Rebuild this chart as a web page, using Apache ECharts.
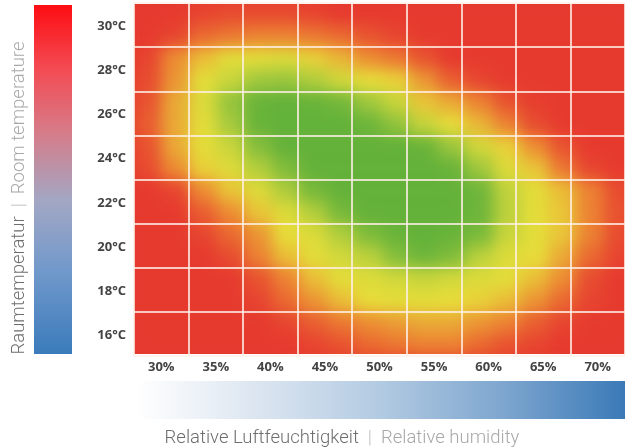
<!DOCTYPE html>
<html><head><meta charset="utf-8">
<script src="https://cdn.jsdelivr.net/npm/echarts@6/dist/echarts.min.js"></script>
<style>
html,body{margin:0;padding:0;background:#fff;}
#wrap{position:relative;width:625px;height:447px;overflow:hidden;}
#heatClip{position:absolute;left:134px;top:4px;width:491px;height:350px;overflow:hidden;background:#e63a2f;}
#heat{position:absolute;left:0;top:-1px;width:498px;height:353px;filter:blur(8px);}
#main{position:absolute;left:0;top:0;width:625px;height:447px;}
</style></head><body>
<div id="wrap"><div id="heatClip"><div id="heat"></div></div><div id="main"></div></div>
<script>
// Axis tick labels
const humidityLabels = ['30%','35%','40%','45%','50%','55%','60%','65%','70%'];
const temperatureLabels = ['16°C','18°C','20°C','22°C','24°C','26°C','28°C','30°C'];

// Half-cell sample positions
const fineHumidity = [28.75,31.25,33.75,36.25,38.75,41.25,43.75,46.25,48.75,51.25,53.75,56.25,58.75,61.25,63.75,66.25,68.75,71.25];
const fineTemperature = [15.5,16.5,17.5,18.5,19.5,20.5,21.5,22.5,23.5,24.5,25.5,26.5,27.5,28.5,29.5,30.5];

// Comfort level per half-cell (0 = red, ~28 orange, ~50 yellow, ~70 yellow-green, ~90 green)
// rows from top (30.5°C) to bottom (15.5°C)
const comfortRows = [
  [5,5,8,10,10,10,8,5,5,5,5,5,5,5,5,5,5,5],
  [5,8,18,22,25,25,22,18,12,8,5,5,5,5,5,5,5,5],
  [8,28,40,50,50,52,45,38,28,22,12,5,5,5,5,5,5,5],
  [10,30,50,58,70,72,65,55,48,45,30,15,8,5,5,5,5,5],
  [12,35,52,74,90,92,90,86,70,58,42,35,25,12,6,5,5,5],
  [15,35,50,68,90,92,92,92,88,75,58,48,38,25,10,5,5,5],
  [12,35,50,58,80,92,92,92,92,92,90,72,55,45,28,12,5,5],
  [10,28,45,52,65,82,92,92,92,92,92,90,70,52,42,22,8,5],
  [5,8,28,42,52,66,85,92,92,92,92,92,88,60,50,40,25,10],
  [5,5,15,28,42,52,65,85,92,92,92,92,88,62,50,42,25,12],
  [5,5,8,18,30,48,52,65,82,90,92,90,84,58,50,42,25,10],
  [5,5,5,10,25,40,50,55,62,80,88,82,62,52,48,35,18,8],
  [5,5,5,5,12,25,40,50,52,55,58,55,52,50,40,28,10,5],
  [5,5,5,5,8,18,30,40,48,50,50,48,45,40,30,18,8,5],
  [5,5,5,5,5,8,15,22,28,32,35,35,30,25,15,8,5,5],
  [5,5,5,5,5,5,8,12,18,22,25,25,18,12,8,5,5,5]
];

const heatData = [];
comfortRows.forEach((row, r) => {
  row.forEach((v, c) => heatData.push([c, comfortRows.length - 1 - r, v]));
});

const heatChart = echarts.init(document.getElementById('heat'), null, {renderer: 'canvas'});
heatChart.setOption({
  animation: false,
  grid: {left: 0, right: 0, top: 0, bottom: 0},
  xAxis: {type: 'category', data: fineHumidity.map(String), show: false},
  yAxis: {type: 'category', data: fineTemperature.map(String), show: false},
  visualMap: {show: false, min: 5, max: 92, dimension: 2,
    inRange: {color: ['#e63a2f', '#ec8833', '#e8df3a', '#9fc83d', '#63b23a']}},
  series: [{type: 'heatmap', data: heatData, progressive: 0, itemStyle: {borderWidth: 0}}]
});

const txtFont = 'Roboto, "Open Sans", sans-serif';
const mainChart = echarts.init(document.getElementById('main'), null, {renderer: 'svg'});
mainChart.setOption({
  animation: false,
  grid: {left: 134, top: 3, width: 498, height: 353},
  xAxis: {
    type: 'category', data: humidityLabels,
    axisLine: {show: false}, axisTick: {show: false},
    axisLabel: {color: '#444', fontWeight: 'bold', fontSize: 13, fontFamily: '"Open Sans", sans-serif', margin: 3},
    splitLine: {show: true, lineStyle: {color: 'rgba(255,240,232,0.8)', width: 2}}
  },
  yAxis: {
    type: 'category', data: temperatureLabels,
    axisLine: {show: false}, axisTick: {show: false},
    axisLabel: {color: '#444', fontWeight: 'bold', fontSize: 13, fontFamily: '"Open Sans", sans-serif', margin: 8},
    splitLine: {show: true, lineStyle: {color: 'rgba(255,240,232,0.8)', width: 2}}
  },
  series: [{type: 'scatter', data: []}],
  graphic: [
    {type: 'rect', shape: {x: 34, y: 5, width: 38, height: 349},
      style: {fill: new echarts.graphic.LinearGradient(0, 0, 0, 1, [
        {offset: 0, color: '#fc0d12'}, {offset: 0.18, color: '#f44a52'},
        {offset: 0.37, color: '#d57d8a'}, {offset: 0.56, color: '#a3a7c4'},
        {offset: 0.76, color: '#7199cb'}, {offset: 1, color: '#3b7bbb'}])}},
    {type: 'rect', shape: {x: 137, y: 381, width: 488, height: 38},
      style: {fill: new echarts.graphic.LinearGradient(0, 0, 1, 0, [
        {offset: 0, color: '#ffffff'}, {offset: 0.25, color: '#dbe5f0'},
        {offset: 0.5, color: '#b2cae2'}, {offset: 0.75, color: '#7ea6cf'},
        {offset: 1, color: '#3a7ab7'}])}},
    {type: 'text', x: 18, y: 198, rotation: Math.PI / 2,
      style: {text: '{a|Raumtemperatur}{s|  |  }{b|Room temperature}',
        textAlign: 'center', textVerticalAlign: 'middle',
        rich: {
          a: {fill: '#6e6e6e', fontSize: 18.5, fontFamily: txtFont, fontWeight: 300},
          s: {fill: '#c0c0c0', fontSize: 18.5, fontFamily: txtFont, fontWeight: 300},
          b: {fill: '#a8a8a8', fontSize: 18.5, fontFamily: txtFont, fontWeight: 300}
        }}},
    {type: 'text', x: 342, y: 437,
      style: {text: '{a|Relative Luftfeuchtigkeit}{s|  |  }{b|Relative humidity}',
        textAlign: 'center', textVerticalAlign: 'middle',
        rich: {
          a: {fill: '#6e6e6e', fontSize: 18.5, fontFamily: txtFont, fontWeight: 300},
          s: {fill: '#c0c0c0', fontSize: 18.5, fontFamily: txtFont, fontWeight: 300},
          b: {fill: '#a8a8a8', fontSize: 18.5, fontFamily: txtFont, fontWeight: 300}
        }}}
  ]
});
</script>
</body></html>
